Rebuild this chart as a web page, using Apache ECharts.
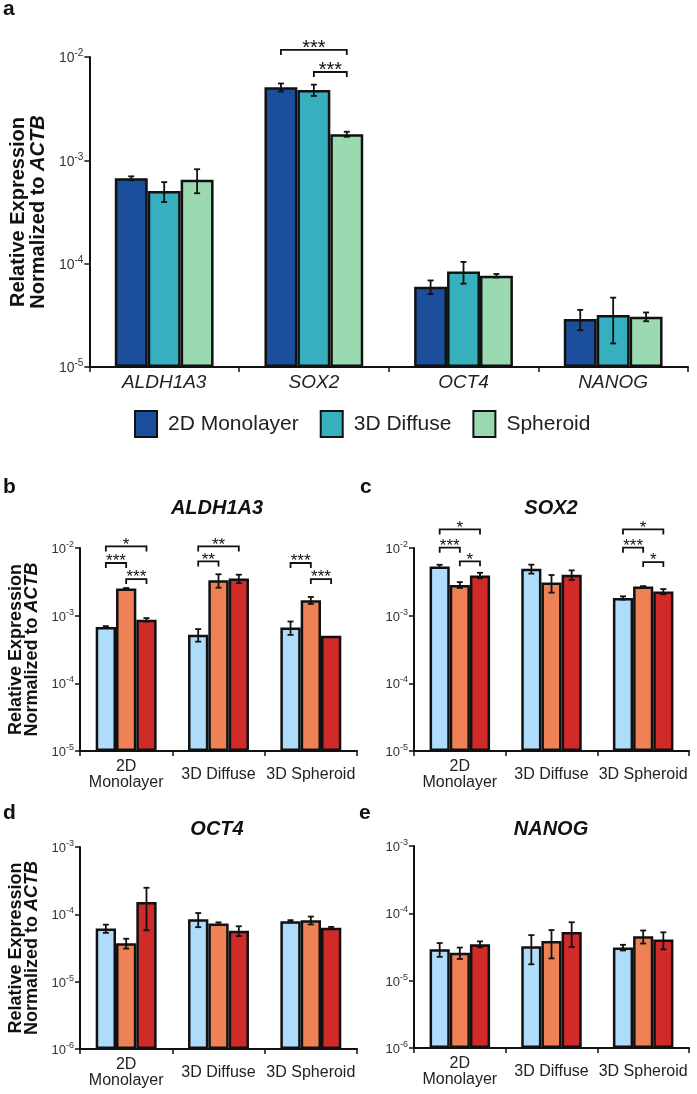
<!DOCTYPE html>
<html><head><meta charset="utf-8">
<script src="https://cdn.jsdelivr.net/npm/echarts@6/dist/echarts.min.js"></script>
<style>html,body{margin:0;padding:0;background:#fff}#c{width:697px;height:1094px}</style>
</head><body><div id="c"></div>
<script>
// ---------- DATA ----------
const genesA = ['ALDH1A3', 'SOX2', 'OCT4', 'NANOG'];
const seriesA = ['2D Monolayer', '3D Diffuse', 'Spheroid'];
const valsA = [
  [6.7e-4, 5.09e-3, 5.98e-5, 2.92e-5],
  [5.05e-4, 4.8e-3, 8.4e-5, 3.19e-5],
  [6.5e-4, 1.79e-3, 7.65e-5, 3.07e-5]
];
const errA = [
  [0.3e-4, 0.45e-3, 0.9e-5, 0.65e-5],
  [1.1e-4, 0.6e-3, 2.0e-5, 1.5e-5],
  [1.7e-4, 0.1e-3, 0.3e-5, 0.3e-5]
];
const conditions = ['2D\nMonolayer', '3D Diffuse', '3D Spheroid'];
const panelTitles = ['ALDH1A3', 'SOX2', 'OCT4', 'NANOG'];
const valsB = [[6.8e-4, 5.23e-4, 6.7e-4], [2.51e-3, 3.34e-3, 1.69e-3], [8.7e-4, 3.53e-3, 5.06e-4]];
const errB = [[0.2e-4, 1.1e-4, 1.5e-4], [0.05e-3, 0.75e-3, 0.2e-3], [0.5e-4, 0.5e-3, 0]];
const valsC = [[5.35e-3, 4.93e-3, 1.83e-3], [2.85e-3, 3.09e-3, 2.7e-3], [3.93e-3, 4.02e-3, 2.27e-3]];
const errC = [[0.3e-3, 0.75e-3, 0.1e-3], [0.28e-3, 0.9e-3, 0.03e-3], [0.37e-3, 0.65e-3, 0.2e-3]];
const valsD = [[6.17e-5, 8.45e-5, 7.9e-5], [3.72e-5, 7.3e-5, 8.17e-5], [1.53e-4, 5.7e-5, 6.3e-5]];
const errD = [[0.86e-5, 2e-5, 0.3e-5], [0.62e-5, 0.3e-5, 1.1e-5], [0.95e-4, 0.95e-5, 0.2e-5]];
const valsE = [[2.94e-5, 3.25e-5, 3.11e-5], [2.6e-5, 3.89e-5, 4.56e-5], [3.48e-5, 5.27e-5, 4.07e-5]];
const errE = [[0.68e-5, 1.5e-5, 0.3e-5], [0.5e-5, 1.75e-5, 1e-5], [0.35e-5, 2.1e-5, 1.15e-5]];
// significance brackets: [category, fromBar, toBar, level, stars]
const sigA = [[1, 0, 2, 1.17e-2, '***'], [1, 1, 2, 7.16e-3, '***']];
const sigB = [[0, 0, 2, 1.056e-2, '*'], [0, 0, 1, 6.0e-3, '***'], [0, 1, 2, 3.47e-3, '***'],
              [1, 0, 2, 1.056e-2, '**'], [1, 0, 1, 6.33e-3, '**'],
              [2, 0, 1, 6.0e-3, '***'], [2, 1, 2, 3.47e-3, '***']];
const sigC = [[0, 0, 2, 1.88e-2, '*'], [0, 0, 1, 1.01e-2, '***'], [0, 1, 2, 6.35e-3, '*'],
              [2, 0, 2, 1.88e-2, '*'], [2, 0, 1, 1.01e-2, '***'], [2, 1, 2, 6.19e-3, '*']];
const sigD = [];
const sigE = [];

// ---------- STYLE ----------
const FONT = 'Liberation Sans, Arial, Helvetica, sans-serif';
const colorsA = ['#1B4F9C', '#36AFBE', '#9BDAB0'];
const colorsB = ['#AEDCFA', '#EE8256', '#D02A29'];
const GAP = 0.34;
const INK = '#111';

const grids = [
  { left: 86, top: 57, width: 602, height: 310 },
  { left: 80, top: 548, width: 277, height: 203 },
  { left: 414, top: 548, width: 275, height: 203 },
  { left: 80, top: 847, width: 277, height: 202 },
  { left: 414, top: 846, width: 275, height: 202 }
];

function tickFmt(v) {
  const e = Math.round(Math.log10(v));
  return '{b|10}{s|' + e + '}';
}
function yAxis(gi, min, max, big, name) {
  const fs = big ? 14 : 13, ss = big ? 10 : 9;
  const ax = {
    type: 'log', logBase: 10, gridIndex: gi, min: min, max: max, interval: 1, startValue: min,
    axisLine: { show: true, lineStyle: { color: INK, width: 2 } },
    axisTick: { show: true, length: 5, lineStyle: { color: INK, width: 1.5 } },
    minorTick: { show: false }, splitLine: { show: false },
    axisLabel: {
      formatter: tickFmt, margin: 6, color: '#333', fontFamily: FONT,
      rich: {
        b: { fontSize: fs, lineHeight: fs + 3, verticalAlign: 'bottom', fontFamily: FONT, color: '#333' },
        s: { fontSize: ss, lineHeight: ss, verticalAlign: 'top', fontFamily: FONT, color: '#333' }
      }
    }
  };
  if (name) {
    const nf = big ? 20 : 18, lh = big ? 20 : 16;
    ax.name = '{n|Relative Expression}\n{n|Normalized to }{i|ACTB}';
    ax.nameLocation = 'middle';
    ax.nameRotate = 90;
    ax.nameGap = big ? 41 : 40;
    ax.nameTextStyle = {
      rich: {
        n: { fontSize: nf, fontWeight: 'bold', fontFamily: FONT, color: INK, lineHeight: lh },
        i: { fontSize: nf, fontWeight: 'bold', fontStyle: 'italic', fontFamily: FONT, color: INK, lineHeight: lh }
      }
    };
  }
  return ax;
}
function xAxis(gi, cats, big) {
  return {
    type: 'category', gridIndex: gi, data: cats,
    axisLine: { show: true, lineStyle: { color: INK, width: 2 } },
    axisTick: { show: true, length: 5, alignWithLabel: false, lineStyle: { color: INK, width: 1.5 } },
    axisLabel: big
      ? { fontSize: 19, fontStyle: 'italic', color: '#222', fontFamily: FONT, margin: 16, verticalAlign: 'middle', interval: 0 }
      : { fontSize: 16, lineHeight: 16, color: '#222', fontFamily: FONT, margin: 24, verticalAlign: 'middle', interval: 0 },
    splitLine: { show: false }
  };
}

const series = [];
function addPanel(gi, names, vals, errs, colors, sig, starSize) {
  names.forEach((nm, s) => {
    series.push({
      type: 'bar', name: nm, xAxisIndex: gi, yAxisIndex: gi,
      data: vals[s], barGap: '0%', barCategoryGap: (GAP * 100) + '%',
      itemStyle: { color: colors[s], borderColor: INK, borderWidth: 2.5 },
      emphasis: { disabled: true }, z: 2
    });
  });
  const eData = [];
  vals.forEach((row, s) => row.forEach((v, c) => { if (errs[s][c] > 0) eData.push([c, v, errs[s][c], s]); }));
  series.push({
    type: 'custom', xAxisIndex: gi, yAxisIndex: gi, z: 4, silent: true,
    encode: { x: 0, y: 1 },
    data: eData,
    renderItem: function (params, api) {
      const c = api.value(0), v = api.value(1), e = api.value(2), s = api.value(3);
      const bw = api.size([1, 0])[0] * (1 - GAP) / 3;
      const p = api.coord([c, v]);
      const x = p[0] + (s - 1) * bw;
      const yt = api.coord([c, v + e])[1];
      const yb = api.coord([c, Math.max(v - e, v * 0.05)])[1];
      const cap = 3;
      const st = { stroke: INK, lineWidth: 1.8 };
      return { type: 'group', children: [
        { type: 'line', shape: { x1: x, y1: yt, x2: x, y2: yb }, style: st },
        { type: 'line', shape: { x1: x - cap, y1: yt, x2: x + cap, y2: yt }, style: st },
        { type: 'line', shape: { x1: x - cap, y1: yb, x2: x + cap, y2: yb }, style: st }
      ] };
    }
  });
  if (sig.length) {
    series.push({
      type: 'custom', xAxisIndex: gi, yAxisIndex: gi, z: 5, silent: true,
      encode: { x: 0, y: 1 },
      data: sig.map(r => [r[0], r[3]]),
      renderItem: function (params, api) {
        const r = sig[params.dataIndex];
        const bw = api.size([1, 0])[0] * (1 - GAP) / 3;
        const p = api.coord([r[0], r[3]]);
        const x1 = p[0] + (r[1] - 1) * bw, x2 = p[0] + (r[2] - 1) * bw, y = p[1];
        const leg = 5;
        return { type: 'group', children: [
          { type: 'polyline', shape: { points: [[x1, y + leg], [x1, y], [x2, y], [x2, y + leg]] },
            style: { stroke: INK, lineWidth: 1.8, fill: null } },
          { type: 'text', style: { text: r[4], x: (x1 + x2) / 2, y: y + starSize * 0.42, align: 'center',
            verticalAlign: 'bottom', fontSize: starSize, fontFamily: FONT, fill: INK } }
        ] };
      }
    });
  }
}
const grpNames = (g) => [g + ' group 1', g + ' group 2', g + ' group 3'];
addPanel(0, seriesA, valsA, errA, colorsA, sigA, 20);
addPanel(1, grpNames(panelTitles[0]), valsB, errB, colorsB, sigB, 17);
addPanel(2, grpNames(panelTitles[1]), valsC, errC, colorsB, sigC, 17);
addPanel(3, grpNames(panelTitles[2]), valsD, errD, colorsB, sigD, 17);
addPanel(4, grpNames(panelTitles[3]), valsE, errE, colorsB, sigE, 17);

function txt(t, x, y, size, italic) {
  return { type: 'text', x: x, y: y, silent: true,
    style: { text: t, align: italic ? 'center' : 'left', verticalAlign: 'middle', fill: INK,
      font: (italic ? 'italic ' : '') + 'bold ' + size + 'px ' + FONT } };
}

const option = {
  animation: false,
  backgroundColor: '#fff',
  grid: grids,
  xAxis: [xAxis(0, genesA, true), xAxis(1, conditions, false), xAxis(2, conditions, false),
          xAxis(3, conditions, false), xAxis(4, conditions, false)],
  yAxis: [yAxis(0, 1e-5, 1e-2, true, true), yAxis(1, 1e-5, 1e-2, false, true), yAxis(2, 1e-5, 1e-2, false, false),
          yAxis(3, 1e-6, 1e-3, false, true), yAxis(4, 1e-6, 1e-3, false, false)],
  legend: {
    data: seriesA, left: 129, top: 405, icon: 'rect', itemWidth: 22, itemHeight: 26, itemGap: 21,
    selectedMode: false,
    textStyle: { fontSize: 21, color: '#222', fontFamily: FONT, padding: [0, 0, 0, 6] }
  },
  graphic: [
    txt('a', 3, 9, 21, false), txt('b', 3, 487, 21, false), txt('c', 360, 487, 21, false),
    txt('d', 3, 813, 21, false), txt('e', 359, 813, 21, false),
    txt(panelTitles[0], 217, 508, 20, true), txt(panelTitles[1], 551, 508, 20, true),
    txt(panelTitles[2], 217, 829, 20, true), txt(panelTitles[3], 551, 829, 20, true)
  ],
  series: series
};
const chart = echarts.init(document.getElementById('c'), null, { renderer: 'canvas' });
chart.setOption(option);
</script></body></html>
